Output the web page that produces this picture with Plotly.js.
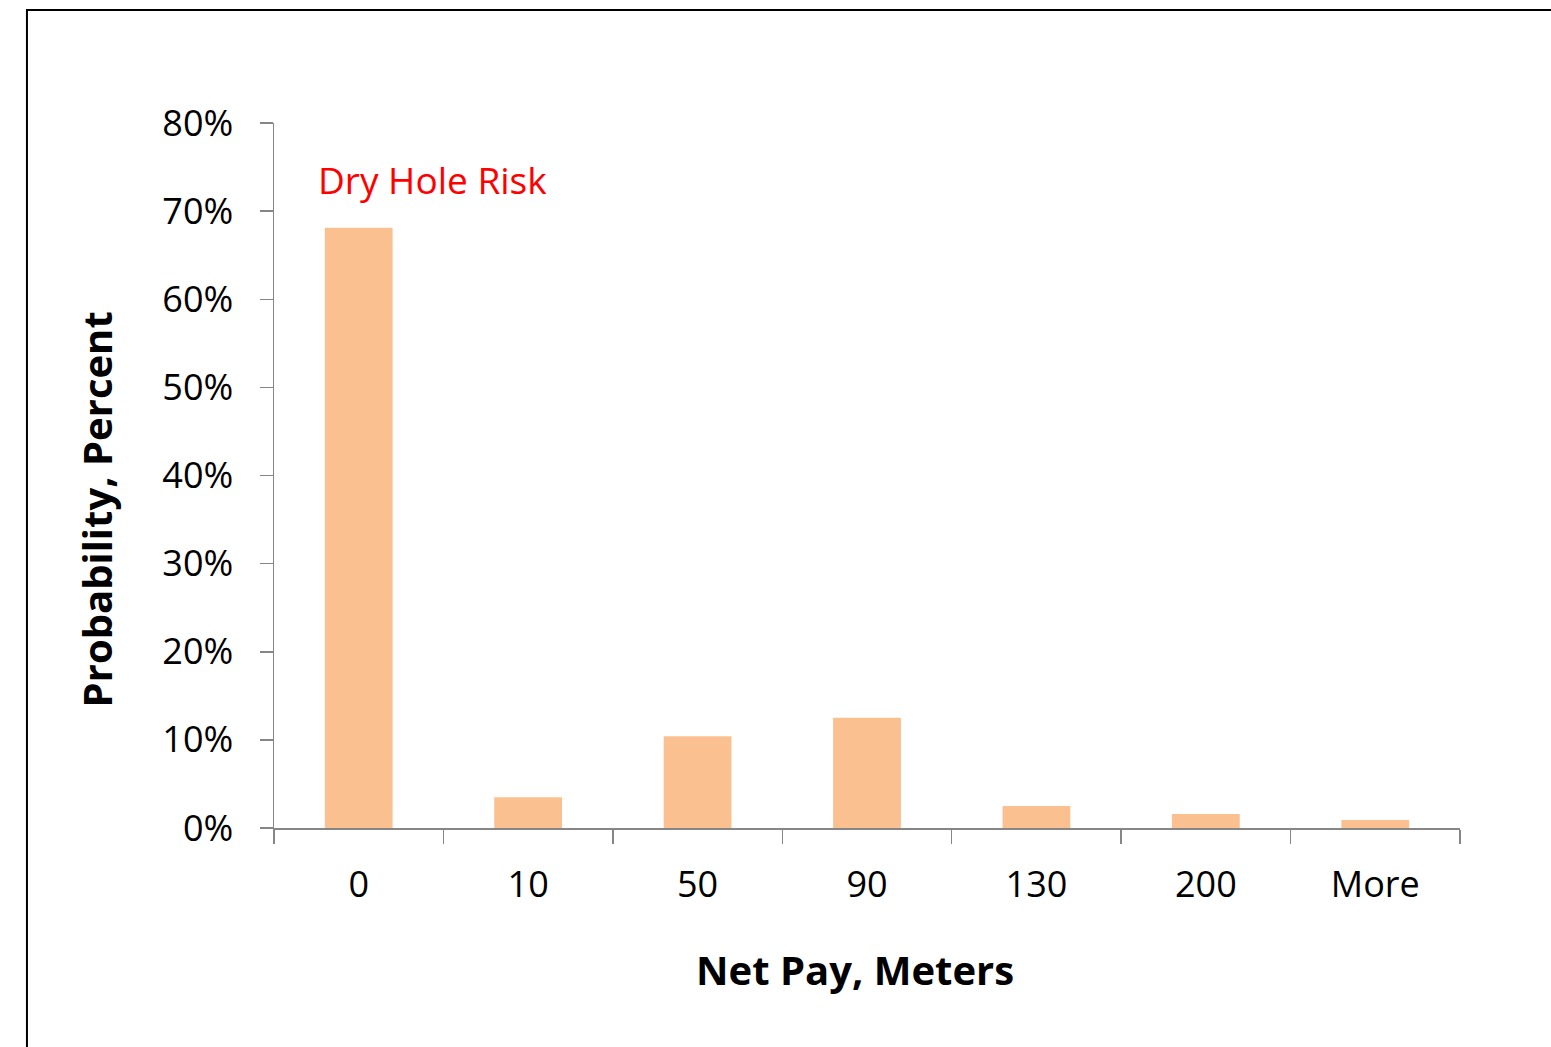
<!DOCTYPE html>
<html>
<head>
<meta charset="utf-8">
<script src="https://cdn.plot.ly/plotly-3.0.1.min.js"></script>
<style>
  html, body { margin: 0; padding: 0; background: #ffffff; }
  #chart { width: 1551px; height: 1047px; }
</style>
</head>
<body>
<div id="chart"></div>
<script>
// Net pay bins (meters) and probability of each outcome
const netPayBins = ['0', '10', '50', '90', '130', '200', 'More'];
const probability = [0.681, 0.035, 0.104, 0.125, 0.025, 0.016, 0.009];
const yTickValues = [0, 0.1, 0.2, 0.3, 0.4, 0.5, 0.6, 0.7, 0.8];

const FONT = '"Open Sans", "Noto Sans", sans-serif';
const AXIS_GREY = '#868686';

const trace = {
  type: 'bar',
  x: netPayBins,
  y: probability,
  marker: { color: '#FAC090', line: { width: 0 } },
  hoverinfo: 'x+y'
};

const layout = {
  width: 1551,
  height: 1047,
  margin: { l: 274, r: 91, t: 123, b: 219 },
  paper_bgcolor: '#ffffff',
  plot_bgcolor: '#ffffff',
  showlegend: false,
  bargap: 0.6,
  font: { family: FONT, color: '#000000', size: 35 },
  xaxis: {
    type: 'category',
    range: [-0.5, 6.5],
    showline: true,
    linecolor: AXIS_GREY,
    linewidth: 1.5,
    ticks: 'outside',
    tickson: 'boundaries',
    ticklen: 14,
    tickwidth: 1.5,
    tickcolor: AXIS_GREY,
    ticklabelstandoff: 24,
    showgrid: false,
    zeroline: false,
    tickfont: { family: FONT, size: 36, color: '#000000' }
  },
  yaxis: {
    range: [0, 0.8],
    tickvals: yTickValues,
    tickformat: '.0%',
    showline: true,
    linecolor: AXIS_GREY,
    linewidth: 1.5,
    ticks: 'outside',
    ticklen: 13,
    tickwidth: 1.5,
    tickcolor: AXIS_GREY,
    ticklabelstandoff: 19,
    showgrid: false,
    zeroline: false,
    tickfont: { family: FONT, size: 36, color: '#000000' }
  },
  annotations: [
    {
      text: 'Dry Hole Risk',
      xref: 'paper', yref: 'y',
      x: 0.0355, y: 0.736,
      xanchor: 'left', yanchor: 'middle',
      showarrow: false,
      font: { family: FONT, size: 37, color: '#FF0000' }
    },
    {
      text: '<b>Net Pay, Meters</b>',
      xref: 'paper', yref: 'paper',
      x: 0.4899, y: -0.201,
      xanchor: 'center', yanchor: 'middle',
      showarrow: false,
      font: { family: FONT, size: 40, color: '#000000' }
    },
    {
      text: '<b>Probability, Percent</b>',
      xref: 'paper', yref: 'paper',
      x: -0.1489, y: 0.4525,
      xanchor: 'center', yanchor: 'middle',
      textangle: -90,
      showarrow: false,
      font: { family: FONT, size: 40, color: '#000000' }
    }
  ],
  shapes: [
    {
      // outer chart frame, running past the right and bottom edges
      type: 'rect',
      xref: 'paper', yref: 'paper',
      x0: -0.2083, x1: 1.1,
      y0: -0.35, y1: 1.1603,
      line: { color: '#000000', width: 2 },
      fillcolor: 'rgba(0,0,0,0)',
      layer: 'below'
    }
  ]
};

Plotly.newPlot('chart', [trace], layout, { displayModeBar: false, staticPlot: true });
</script>
</body>
</html>
